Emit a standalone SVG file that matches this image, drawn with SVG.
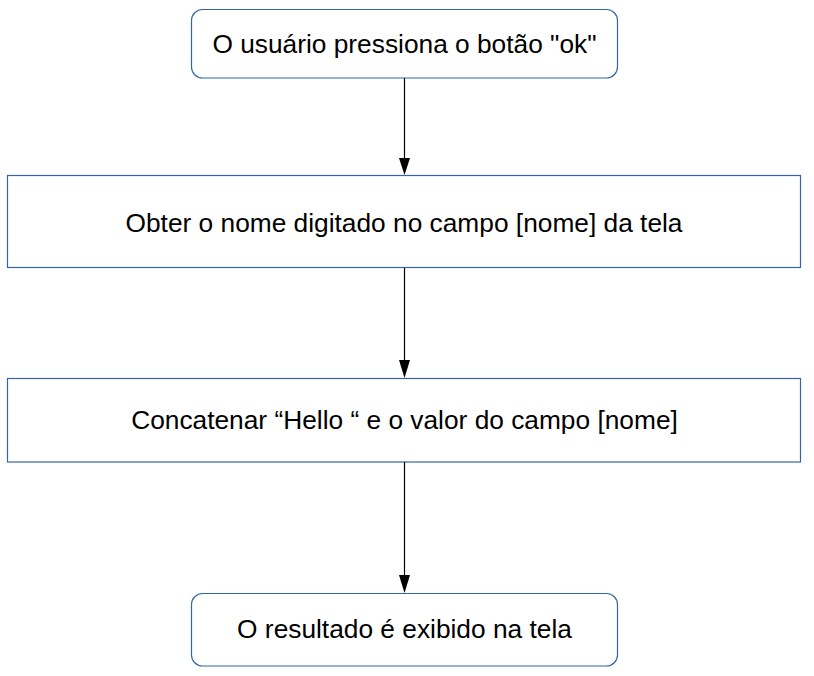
<svg xmlns="http://www.w3.org/2000/svg" width="814" height="676" viewBox="0 0 814 676">
<style>
.box{fill:#ffffff;stroke:#3465a4;stroke-width:1.2}
.t{font-family:"Liberation Sans",Arial,sans-serif;font-size:26.3px;fill:#000000;text-anchor:middle}
.c{stroke:#000000;stroke-width:1.2;fill:none}
.h{fill:#000000}
</style>
<rect width="814" height="676" fill="#ffffff"/>
<g id="n1">
<rect class="box" x="191.5" y="9.5" width="426" height="68.5" rx="11" ry="11"/>
<text class="t" x="404.5" y="52.5">O usuário pressiona o botão "ok"</text>
</g>
<g id="n2">
<rect class="box" x="7.5" y="175.5" width="793" height="92"/>
<text class="t" x="404" y="231.5">Obter o nome digitado no campo [nome] da tela</text>
</g>
<g id="n3">
<rect class="box" x="7.5" y="378.5" width="793" height="83.5"/>
<text class="t" x="404.5" y="428.5">Concatenar “Hello “ e o valor do campo [nome]</text>
</g>
<g id="n4">
<rect class="box" x="191.5" y="593.5" width="426" height="72.5" rx="11" ry="11"/>
<text class="t" x="404.5" y="637.5">O resultado é exibido na tela</text>
</g>
<g id="connectors">
<line class="c" x1="404.5" y1="78" x2="404.5" y2="159"/>
<polygon class="h" points="399,158 410,158 404.5,175"/>
<line class="c" x1="404.5" y1="268" x2="404.5" y2="361"/>
<polygon class="h" points="399,360 410,360 404.5,378"/>
<line class="c" x1="404.5" y1="462" x2="404.5" y2="576"/>
<polygon class="h" points="399,575 410,575 404.5,593"/>
</g>
</svg>
